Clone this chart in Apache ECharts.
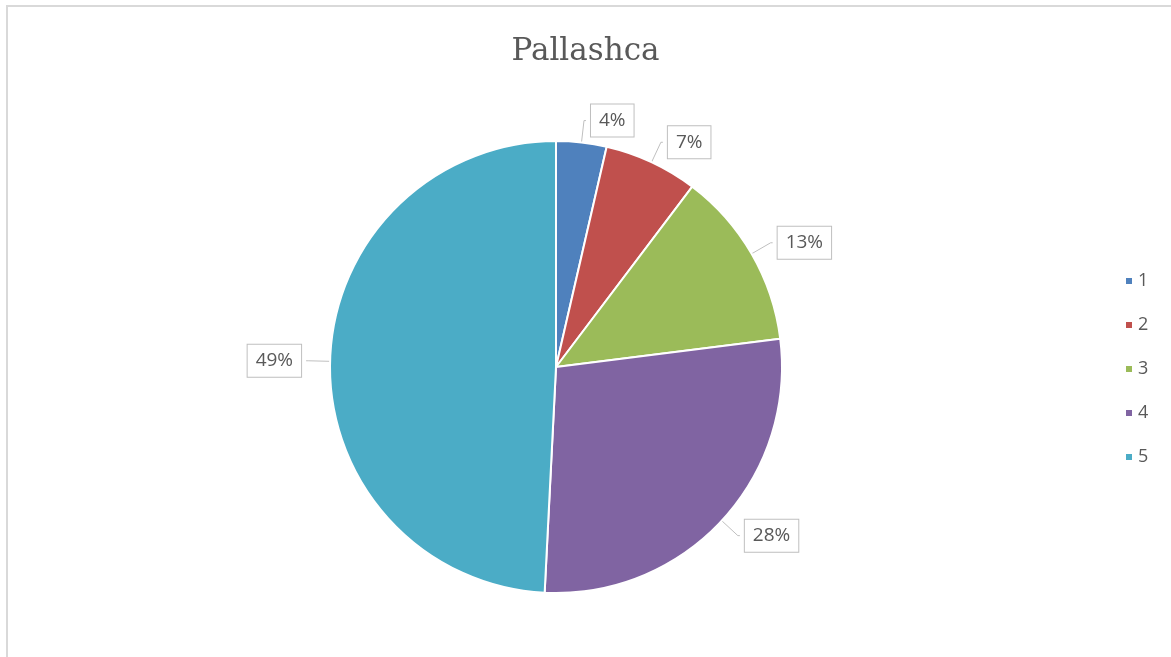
<!DOCTYPE html>
<html>
<head>
<meta charset="utf-8">
<script src="https://cdn.jsdelivr.net/npm/echarts@6/dist/echarts.min.js"></script>
<style>html,body{margin:0;padding:0;background:#fff}#c{width:1171px;height:657px}</style>
</head>
<body>
<div id="c"></div>
<script>
const categories = ['1', '2', '3', '4', '5'];
const values = [3.6, 6.7, 12.7, 27.8, 49.2];
const colors = ['#4F81BD', '#C0504D', '#9BBB59', '#8064A2', '#4BACC6'];
const title = 'Pallashca';

const total = values.reduce((a, b) => a + b, 0);
const chart = echarts.init(document.getElementById('c'));
chart.setOption({
  animation: false,
  color: colors,
  graphic: [{
    type: 'rect', silent: true,
    shape: { x: 7, y: 6, width: 1200, height: 700 },
    style: { fill: 'none', stroke: '#d9d9d9', lineWidth: 2 }
  }],
  title: {
    text: title, left: 'center', top: 31,
    textStyle: { fontFamily: 'DejaVu Serif', fontWeight: 'normal', fontSize: 31, color: '#595959' }
  },
  legend: {
    orient: 'vertical', left: 1119, top: 267,
    itemWidth: 8, itemHeight: 8, itemGap: 26, icon: 'rect',
    textStyle: { fontFamily: 'Open Sans', fontSize: 18, color: '#595959' },
    data: categories
  },
  series: [{
    type: 'pie',
    center: [556, 367],
    radius: 226,
    startAngle: 90,
    clockwise: true,
    avoidLabelOverlap: false,
    itemStyle: { borderColor: '#fff', borderWidth: 2 },
    label: {
      show: true, position: 'outside',
      formatter: p => Math.round(p.value / total * 100) + '%',
      fontFamily: 'Open Sans', fontSize: 19, color: '#595959',
      backgroundColor: '#fff', borderColor: '#bfbfbf', borderWidth: 1,
      padding: [7, 8, 6, 8]
    },
    labelLine: { show: true, length: 22, length2: 2, lineStyle: { color: '#bfbfbf', width: 1 } },
    data: categories.map((c, i) => ({ name: c, value: values[i] }))
  }]
});
</script>
</body>
</html>
